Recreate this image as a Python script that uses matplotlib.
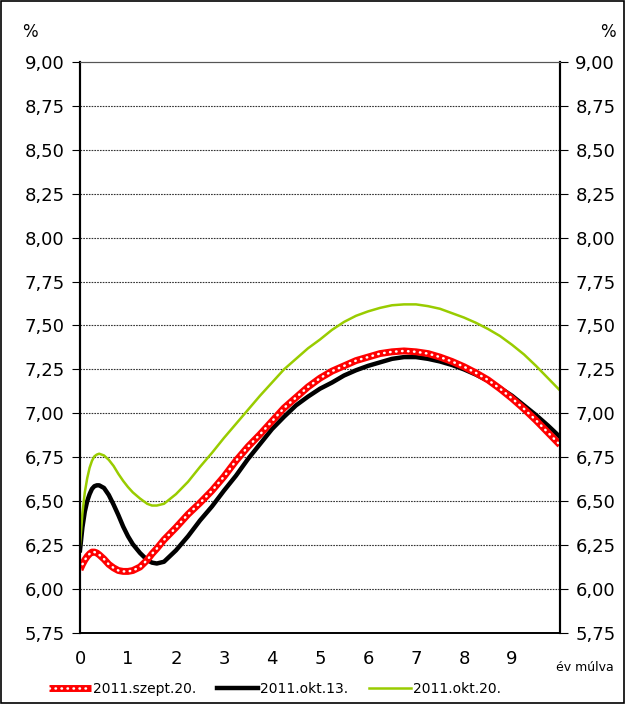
import numpy as np
import matplotlib.pyplot as plt
from matplotlib.patches import Rectangle
from matplotlib.ticker import FixedLocator, FuncFormatter

# maturity in years
years = [0, 0.05, 0.1, 0.15, 0.2, 0.25, 0.3, 0.35, 0.4, 0.5, 0.6, 0.7, 0.8, 0.9, 1.0, 1.1,
         1.25, 1.4, 1.5, 1.6, 1.75, 2.0, 2.25, 2.5, 2.75, 3.0, 3.25, 3.5, 3.75, 4.0, 4.25, 4.5,
         4.75, 5.0, 5.25, 5.5, 5.75, 6.0, 6.25, 6.5, 6.75, 7.0, 7.25, 7.5, 7.75, 8.0, 8.25, 8.5,
         8.75, 9.0, 9.25, 9.5, 9.75, 10.0]

szept20 = [6.11, 6.14, 6.165, 6.185, 6.20, 6.21, 6.21, 6.205, 6.195, 6.17, 6.14, 6.12, 6.105, 6.10, 6.10, 6.105,
           6.125, 6.165, 6.20, 6.23, 6.28, 6.35, 6.425, 6.49, 6.56, 6.64, 6.73, 6.81, 6.88, 6.955, 7.03, 7.09,
           7.15, 7.20, 7.24, 7.27, 7.30, 7.32, 7.34, 7.35, 7.355, 7.35, 7.34, 7.32, 7.295, 7.265, 7.23, 7.19,
           7.14, 7.085, 7.025, 6.96, 6.89, 6.82]
okt13 = [6.22, 6.35, 6.44, 6.50, 6.54, 6.57, 6.585, 6.59, 6.59, 6.575, 6.535, 6.48, 6.42, 6.355, 6.30, 6.255,
         6.205, 6.165, 6.15, 6.145, 6.155, 6.22, 6.30, 6.39, 6.47, 6.56, 6.645, 6.74, 6.825, 6.91, 6.98, 7.045,
         7.095, 7.14, 7.175, 7.215, 7.245, 7.27, 7.29, 7.31, 7.32, 7.32, 7.31, 7.295, 7.275, 7.25, 7.22, 7.185,
         7.145, 7.10, 7.045, 6.99, 6.93, 6.865]
okt20 = [6.25, 6.43, 6.55, 6.63, 6.69, 6.73, 6.755, 6.765, 6.77, 6.76, 6.735, 6.70, 6.655, 6.615, 6.58, 6.55,
         6.515, 6.485, 6.475, 6.475, 6.485, 6.54, 6.61, 6.695, 6.775, 6.86, 6.94, 7.02, 7.10, 7.175, 7.25, 7.31,
         7.37, 7.42, 7.475, 7.52, 7.555, 7.58, 7.60, 7.615, 7.62, 7.62, 7.61, 7.595, 7.57, 7.545, 7.515, 7.48,
         7.44, 7.39, 7.335, 7.27, 7.20, 7.13]

labels = ['2011.szept.20.', '2011.okt.13.', '2011.okt.20.']
xticks = list(range(10))
yticks = [5.75 + 0.25 * i for i in range(14)]

fig = plt.figure(figsize=(6.25, 7.04), dpi=100)
ax = fig.add_axes([0.128, 0.101, 0.768, 0.811])

ax.set_xlim(0, 10)
ax.set_ylim(5.75, 9.0)

# dotted gridlines
for y in yticks[1:-1]:
    ax.axhline(y, color='#333333', lw=0.8, ls=(0, (1.5, 1.0)), zorder=1)

l1, = ax.plot(years, szept20, color='#ff0000', lw=5, solid_capstyle='butt', zorder=3)
l1w, = ax.plot(years, szept20, color='white', lw=1.8, ls=(0, (0.2, 2.2)),
               dash_capstyle='round', zorder=4)
l2, = ax.plot(years, okt13, color='black', lw=3.2, zorder=2)
l3, = ax.plot(years, okt20, color='#99cc00', lw=1.8, zorder=2)

fmt = FuncFormatter(lambda v, p: f'{v:.2f}'.replace('.', ','))
ax.yaxis.set_major_locator(FixedLocator(yticks))
ax.yaxis.set_major_formatter(fmt)
ax.set_xticks(xticks)
ax.tick_params(axis='y', labelsize=13, length=6, width=0.8, direction='out', pad=5)
ax.tick_params(axis='x', labelsize=13, length=0, pad=12)

ax2 = ax.twinx()
ax2.set_ylim(5.75, 9.0)
ax2.yaxis.set_major_locator(FixedLocator(yticks))
ax2.yaxis.set_major_formatter(fmt)
ax2.tick_params(axis='y', labelsize=13, length=6, width=0.8, direction='out', pad=5)

for a in (ax, ax2):
    a.spines['left'].set_linewidth(1.5)
    a.spines['right'].set_linewidth(1.5)
    a.spines['top'].set_color('#555555')
    a.spines['top'].set_linewidth(0.8)
    a.spines['bottom'].set_linewidth(1.2)

fig.text(0.048, 0.955, '%', fontsize=12, ha='center', va='center')
fig.text(0.973, 0.955, '%', fontsize=12, ha='center', va='center')
fig.text(0.935, 0.052, 'év múlva', fontsize=9, ha='center', va='center')

fig.legend([(l1, l1w), l2, l3], labels, loc='lower center', ncol=3, frameon=False,
           fontsize=10, bbox_to_anchor=(0.44, -0.006), handlelength=3.0,
           handletextpad=0.15, columnspacing=1.5)

fig.patches.append(Rectangle((0.002, 0.002), 0.996, 0.996, transform=fig.transFigure,
                             fill=False, edgecolor='black', lw=1.2))

fig.savefig('out.png', dpi=100)
